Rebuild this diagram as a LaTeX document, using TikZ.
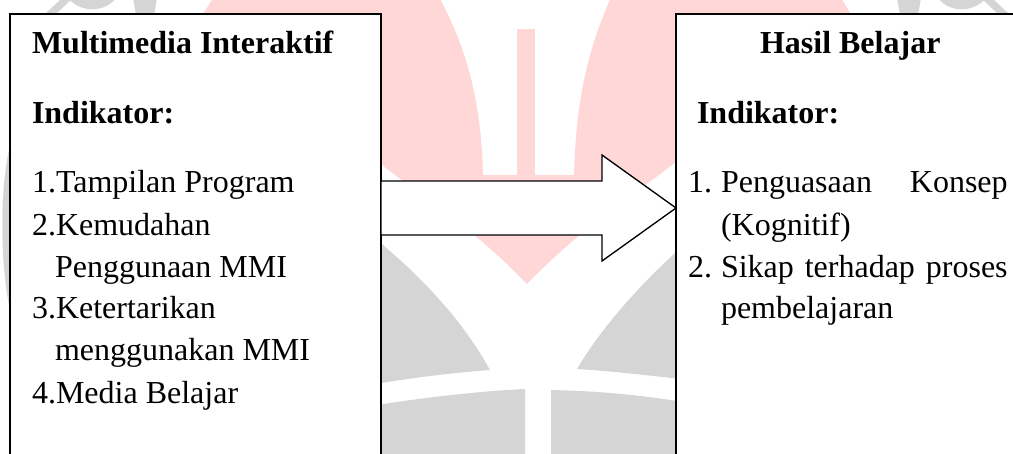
\documentclass[tikz,border=0pt]{standalone}
\usepackage{fontspec}
\setmainfont{Liberation Serif}
\definecolor{wmpink}{RGB}{255,215,215}
\definecolor{wmgray}{RGB}{214,213,213}
\begin{document}
\begin{tikzpicture}[x=0.75pt,y=-0.75pt,
  panel/.style={draw=black, line width=1.3pt, fill=white, inner sep=0pt, outer sep=0pt},
  txt/.style={anchor=base west, inner sep=0pt, outer sep=0pt, font=\fontsize{24}{29}\selectfont},
  hd/.style={txt, font=\fontsize{24}{29}\selectfont\bfseries},
  blockarrow/.style={draw=black, line width=1pt, fill=white, line join=miter}]
\useasboundingbox (0,0) rectangle (1013,453);
\clip (0,0) rectangle (1013,453);
% ---- watermark ----
\fill[wmpink] (215,-5) -- (203,14) -- (382,165) .. controls (420,195) and (470,225) .. (527,284)
  .. controls (584,225) and (634,195) .. (672,165) -- (851,14) -- (839,-5) -- (612,-5)
  .. controls (592,40) and (576,90) .. (574,175) -- (483,175)
  .. controls (481,90) and (462,40) .. (438,-5) -- cycle;
\fill[wmpink] (517,29) rectangle (535,176);
\fill[wmgray] (370,235) -- (383,245) .. controls (430,285) and (465,325) .. (490,370)
  .. controls (450,373) and (410,378) .. (370,385) -- cycle;
\fill[wmgray] (370,406) .. controls (420,398) and (480,391) .. (525,389) -- (525,460) -- (370,460) -- cycle;
\fill[wmgray] (690,240) -- (675,253) .. controls (635,290) and (600,330) .. (577,369)
  .. controls (610,371) and (645,375) .. (690,380) -- cycle;
\fill[wmgray] (551,390) .. controls (600,391) and (640,395) .. (690,403) -- (690,460) -- (551,460) -- cycle;
\fill[wmgray] (9,150) .. controls (0,190) and (0,260) .. (9,305) -- cycle;
\foreach \s in {1,-1}{
  \begin{scope}[shift={(527,0)}, xscale=\s, shift={(-527,0)}]
    \fill[wmgray] (62,-2) -- (73,-2) -- (55,15) -- (44,15) -- cycle;
    \fill[wmgray] (68,-2) .. controls (80,13) and (105,13) .. (116,-2) -- cycle;
    \fill[wmgray] (133,-2) -- (157,-2) -- (154,15) -- (136,15) -- cycle;
  \end{scope}
}
% ---- boxes ----
\node[panel, minimum width=278.25pt, minimum height=342pt] (L) at (195.5,242) {};
\node[panel, minimum width=265.5pt, minimum height=342pt] (R) at (853,242) {};
% ---- block arrow ----
\coordinate (ay) at (0,208);
\draw[blockarrow] (L.east |- ay) ++(0,-27) -- ++(221,0) -- ++(0,-26) -- (R.west |- ay)
  -- ++(-74,53) -- ++(0,-26) -- ++(-221,0) -- cycle;
% ---- left texts ----
\node[hd] (t1) at (32,54) {Multimedia Interaktif};
\node[hd] (t2) at (32,123) {Indikator:};
\node[txt] (l1) at (32,192) {1.Tampilan Program};
\node[txt] (l2) at (32,235) {2.Kemudahan};
\node[txt] (l3) at (55,277) {Penggunaan MMI};
\node[txt] (l4) at (32,318) {3.Ketertarikan};
\node[txt] (l5) at (55,360) {menggunakan MMI};
\node[txt] (l6) at (32,403) {4.Media Belajar};
% ---- right texts ----
\node[hd] (h1) at (760,54) {Hasil Belajar};
\node[hd] (h2) at (697,123) {Indikator:};
\node[txt] (r1n) at (688,192) {1.};
\node[txt] (r1) at (721,192) {\hbox to 215pt{Penguasaan\hfill Konsep}};
\node[txt] (r2) at (721,235) {(Kognitif)};
\node[txt] (r3n) at (688,277) {2.};
\node[txt] (r3) at (721,277) {\hbox to 215pt{Sikap\hfill terhadap\hfill proses}};
\node[txt] (r4) at (721,318) {pembelajaran};
\end{tikzpicture}
\end{document}
